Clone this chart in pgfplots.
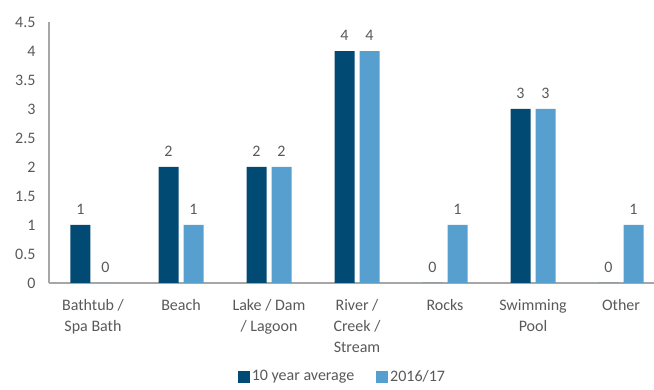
\documentclass[border=0pt]{standalone}
\usepackage{pgfplots}
\pgfplotsset{compat=1.18}
\usepackage{fontspec}
\setmainfont{Carlito}
\definecolor{dk}{RGB}{0,74,115}
\definecolor{lt}{RGB}{86,159,206}
\definecolor{txt}{RGB}{89,89,89}
\definecolor{ax}{RGB}{166,166,166}
\begin{document}
\fontsize{16}{19}\selectfont
\begin{tikzpicture}
\begin{axis}[
  scale only axis,
  width=605pt, height=261pt,
  ymin=0, ymax=4.5,
  ytick={0,0.5,...,4.5},
  xmin=-0.5, xmax=6.375,
  xtick=data,
  xticklabels={{Bathtub /\\Spa Bath},{Beach},{Lake / Dam\\/ Lagoon},{River /\\Creek /\\Stream},{Rocks},{Swimming\\Pool},{Other}},
  xticklabel style={align=center, text=txt, font=\fontsize{16}{21}\selectfont, yshift=-11pt},
  yticklabel style={text=txt, font=\fontsize{16}{19}\selectfont, xshift=-8pt},
  /pgf/number format/assume math mode=true,
  axis x line*=bottom, axis y line*=left,
  x axis line style={ax, line width=1.5pt, -},
  y axis line style={ax, line width=1.5pt, -},
  major tick length=0pt,
  ybar=5pt, bar width=20pt,
  nodes near coords,
  every node near coord/.append style={text=txt, font=\fontsize{16}{19}\selectfont, yshift=5pt},
  legend style={draw=none, at={(0.485,-0.36)}, anchor=center, legend columns=2, font=\fontsize{16}{19}\selectfont, text=txt, /tikz/every even column/.append style={column sep=20pt}},
  legend image code/.code={\fill[#1] (0pt,-6pt) rectangle (12pt,6pt);},
  clip=false,
]
\addplot[fill=dk, draw=none] coordinates {(0,1) (1,2) (2,2) (3,4) (4,0) (5,3) (6,0)};
\addplot[fill=lt, draw=none] coordinates {(0,0) (1,1) (2,2) (3,4) (4,1) (5,3) (6,1)};
\legend{10 year average, 2016/17}
\coordinate (tl) at (rel axis cs:0,1);
\coordinate (br) at (rel axis cs:1,0);
\end{axis}
\pgfresetboundingbox
\path ([shift={(-49pt,22pt)}]tl) rectangle ([shift={(0pt,-107pt)}]br);
\end{tikzpicture}
\end{document}
